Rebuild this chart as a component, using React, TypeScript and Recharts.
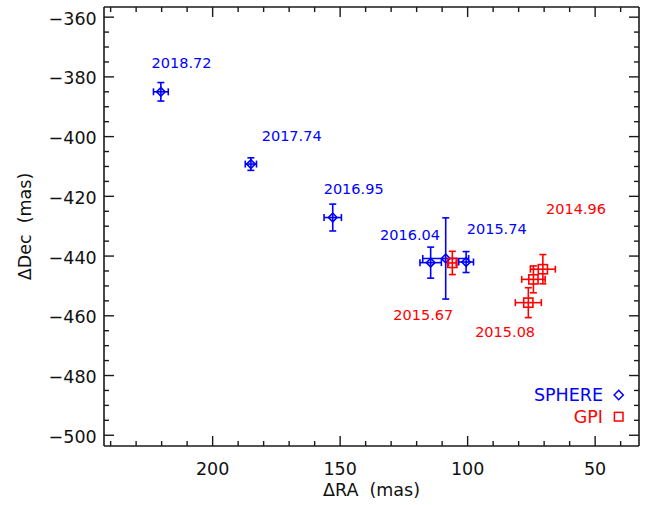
import React from 'react';
import { ScatterChart, Scatter, XAxis, YAxis, ErrorBar } from 'recharts';

// ---- data ----
const sphereRA = [220.3, 185.0, 152.9, 114.5, 108.6, 100.6];
const sphereDec = [-385.0, -409.2, -427.1, -442.2, -440.8, -442.0];
const sphereRAErr = [2.9, 2.2, 3.4, 4.2, 9.0, 2.9];
const sphereDecErr = [3.1, 2.1, 4.5, 5.2, 13.6, 3.5];

const gpiRA = [106.0, 70.5, 74.2, 76.2];
const gpiDec = [-442.3, -444.4, -447.8, -455.6];
const gpiRAErr = [1.5, 4.9, 4.6, 5.1];
const gpiDecErr = [3.9, 4.9, 4.5, 5.0];

const sphereEpochs = ['2018.72', '2017.74', '2016.95', '2016.04', '2015.74'];
const sphereLabelRA = [212.2, 169.0, 144.7, 122.6, 88.6];
const sphereLabelDec = [-375.4, -399.6, -417.6, -432.7, -430.7];

const gpiEpochs = ['2014.96', '2015.67', '2015.08'];
const gpiLabelRA = [57.5, 117.4, 85.3];
const gpiLabelDec = [-424.0, -459.8, -465.4];

const xDomain = [32.8, 242.6];
const yDomain = [-503.6, -356.6];
const xMajorTicks = [50, 100, 150, 200];
const xTicks = [40, 50, 60, 70, 80, 90, 100, 110, 120, 130, 140, 150, 160, 170, 180, 190, 200, 210, 220, 230, 240];
const yMajorTicks = [-500, -480, -460, -440, -420, -400, -380, -360];
const yTicks = [
  -500, -495, -490, -485, -480, -475, -470, -465, -460, -455, -450, -445, -440, -435, -430,
  -425, -420, -415, -410, -405, -400, -395, -390, -385, -380, -375, -370, -365, -360,
];

// ---- tables for the library ----
const sphereData = sphereRA.map((ra, i) => ({ ra, dec: sphereDec[i], raErr: sphereRAErr[i], decErr: sphereDecErr[i] }));
const gpiData = gpiRA.map((ra, i) => ({ ra, dec: gpiDec[i], raErr: gpiRAErr[i], decErr: gpiDecErr[i] }));
const sphereLabels = sphereEpochs.map((text, i) => ({ ra: sphereLabelRA[i], dec: sphereLabelDec[i], text }));
const gpiLabels = gpiEpochs.map((text, i) => ({ ra: gpiLabelRA[i], dec: gpiLabelDec[i], text }));

const BLUE = '#0000ff';
const RED = '#ff0000';
const AXIS = '#1a1a1a';
const FONT = 'DejaVu Sans';
const tickText = { fontFamily: FONT, fontSize: 17.5, fill: '#111' };
const MAJ = 10;
const MIN = 5;

const fmtY = (v: number) => (v < 0 ? '\u2212' + Math.abs(v) : String(v));

const BottomTick = (p: any) => {
  const { x, y, payload } = p;
  const major = xMajorTicks.includes(payload.value);
  return (
    <g>
      <line x1={x} x2={x} y1={y} y2={y - (major ? MAJ : MIN)} stroke={AXIS} strokeWidth={1.4} />
      {major && (
        <text x={x} y={y + 28.5} textAnchor="middle" style={tickText}>
          {payload.value}
        </text>
      )}
    </g>
  );
};

const TopTick = (p: any) => {
  const { x, y, payload } = p;
  const major = xMajorTicks.includes(payload.value);
  return <line x1={x} x2={x} y1={y} y2={y + (major ? MAJ : MIN)} stroke={AXIS} strokeWidth={1.4} />;
};

const LeftTick = (p: any) => {
  const { x, y, payload } = p;
  const major = yMajorTicks.includes(payload.value);
  return (
    <g>
      <line x1={x} x2={x + (major ? MAJ : MIN)} y1={y} y2={y} stroke={AXIS} strokeWidth={1.4} />
      {major && (
        <text x={x - 7.3} y={y + 7.5} textAnchor="end" style={tickText}>
          {fmtY(payload.value)}
        </text>
      )}
    </g>
  );
};

const RightTick = (p: any) => {
  const { x, y, payload } = p;
  const major = yMajorTicks.includes(payload.value);
  return <line x1={x} x2={x - (major ? MAJ : MIN)} y1={y} y2={y} stroke={AXIS} strokeWidth={1.4} />;
};

const Diamond = (p: any) => {
  const { cx, cy } = p;
  const r = 4.3;
  return (
    <path
      d={`M${cx},${cy - r}L${cx + r},${cy}L${cx},${cy + r}L${cx - r},${cy}Z`}
      fill="none"
      stroke={BLUE}
      strokeWidth={1.6}
    />
  );
};

const Square = (p: any) => {
  const { cx, cy } = p;
  const r = 4.6;
  return <rect x={cx - r} y={cy - r} width={2 * r} height={2 * r} fill="none" stroke={RED} strokeWidth={1.6} />;
};

const makeLabel = (color: string) => (p: any) => (
  <text
    x={p.cx}
    y={p.cy + 5.3}
    textAnchor="middle"
    style={{ fontFamily: FONT, fontSize: 14.5, fill: color }}
  >
    {p.payload.text}
  </text>
);

export default function App() {
  return (
    <div style={{ position: 'absolute', left: 0, top: 0, width: 662, height: 505, background: '#fff' }}>
      <ScatterChart width={662} height={505} margin={{ top: 6, right: 22, bottom: 0, left: 0 }}>
        <XAxis
          dataKey="ra"
          type="number"
          domain={xDomain}
          reversed
          allowDataOverflow
          ticks={xTicks}
          interval={0}
          height={59}
          tickSize={0}
          tickMargin={0}
          tickLine={false}
          axisLine={{ stroke: AXIS, strokeWidth: 1.6 }}
          tick={BottomTick}
          label={{
            value: '\u0394RA\u00A0\u00A0(mas)',
            position: 'insideBottom',
            offset: 9,
            style: { fontFamily: FONT, fontSize: 17.5, fill: '#111' },
          }}
        />
        <XAxis
          xAxisId="top"
          dataKey="ra"
          orientation="top"
          type="number"
          domain={xDomain}
          reversed
          allowDataOverflow
          ticks={xTicks}
          interval={0}
          height={1}
          tickSize={0}
          tickMargin={0}
          tickLine={false}
          axisLine={{ stroke: AXIS, strokeWidth: 1.6 }}
          tick={TopTick}
        />
        <YAxis
          dataKey="dec"
          type="number"
          domain={yDomain}
          allowDataOverflow
          ticks={yTicks}
          interval={0}
          width={104}
          tickSize={0}
          tickMargin={0}
          tickLine={false}
          axisLine={{ stroke: AXIS, strokeWidth: 1.6 }}
          tick={LeftTick}
          label={{
            value: '\u0394Dec\u00A0\u00A0(mas)',
            angle: -90,
            position: 'insideLeft',
            offset: 25,
            style: { fontFamily: FONT, fontSize: 17.5, fill: '#111', textAnchor: 'middle' },
          }}
        />
        <YAxis
          yAxisId="right"
          dataKey="dec"
          orientation="right"
          type="number"
          domain={yDomain}
          allowDataOverflow
          ticks={yTicks}
          interval={0}
          width={1}
          tickSize={0}
          tickMargin={0}
          tickLine={false}
          axisLine={{ stroke: AXIS, strokeWidth: 1.6 }}
          tick={RightTick}
        />
        <Scatter data={sphereData} shape={Diamond} isAnimationActive={false}>
          <ErrorBar dataKey="raErr" direction="x" width={3.5} stroke={BLUE} strokeWidth={1.6} isAnimationActive={false} />
          <ErrorBar dataKey="decErr" direction="y" width={3.5} stroke={BLUE} strokeWidth={1.6} isAnimationActive={false} />
        </Scatter>
        <Scatter data={gpiData} shape={Square} isAnimationActive={false}>
          <ErrorBar dataKey="raErr" direction="x" width={3.5} stroke={RED} strokeWidth={1.6} isAnimationActive={false} />
          <ErrorBar dataKey="decErr" direction="y" width={3.5} stroke={RED} strokeWidth={1.6} isAnimationActive={false} />
        </Scatter>
        <Scatter data={sphereLabels} shape={makeLabel(BLUE)} isAnimationActive={false} />
        <Scatter
          data={gpiLabels}
          xAxisId="top"
          yAxisId="right"
          shape={makeLabel(RED)}
          isAnimationActive={false}
        />
      </ScatterChart>
      <svg
        width={662}
        height={505}
        style={{ position: 'absolute', left: 0, top: 0, pointerEvents: 'none' }}
      >
        <text x={603} y={401} textAnchor="end" style={{ fontFamily: FONT, fontSize: 17.5, fill: BLUE }}>
          SPHERE
        </text>
        <path d="M618.7,390.3L623.3,395L618.7,399.7L614.1,395Z" fill="none" stroke={BLUE} strokeWidth={1.5} />
        <text x={603} y={423.3} textAnchor="end" style={{ fontFamily: FONT, fontSize: 17.5, fill: RED }}>
          GPI
        </text>
        <rect x={614.4} y={412.4} width={8.6} height={8.6} fill="none" stroke={RED} strokeWidth={1.5} />
      </svg>
    </div>
  );
}
